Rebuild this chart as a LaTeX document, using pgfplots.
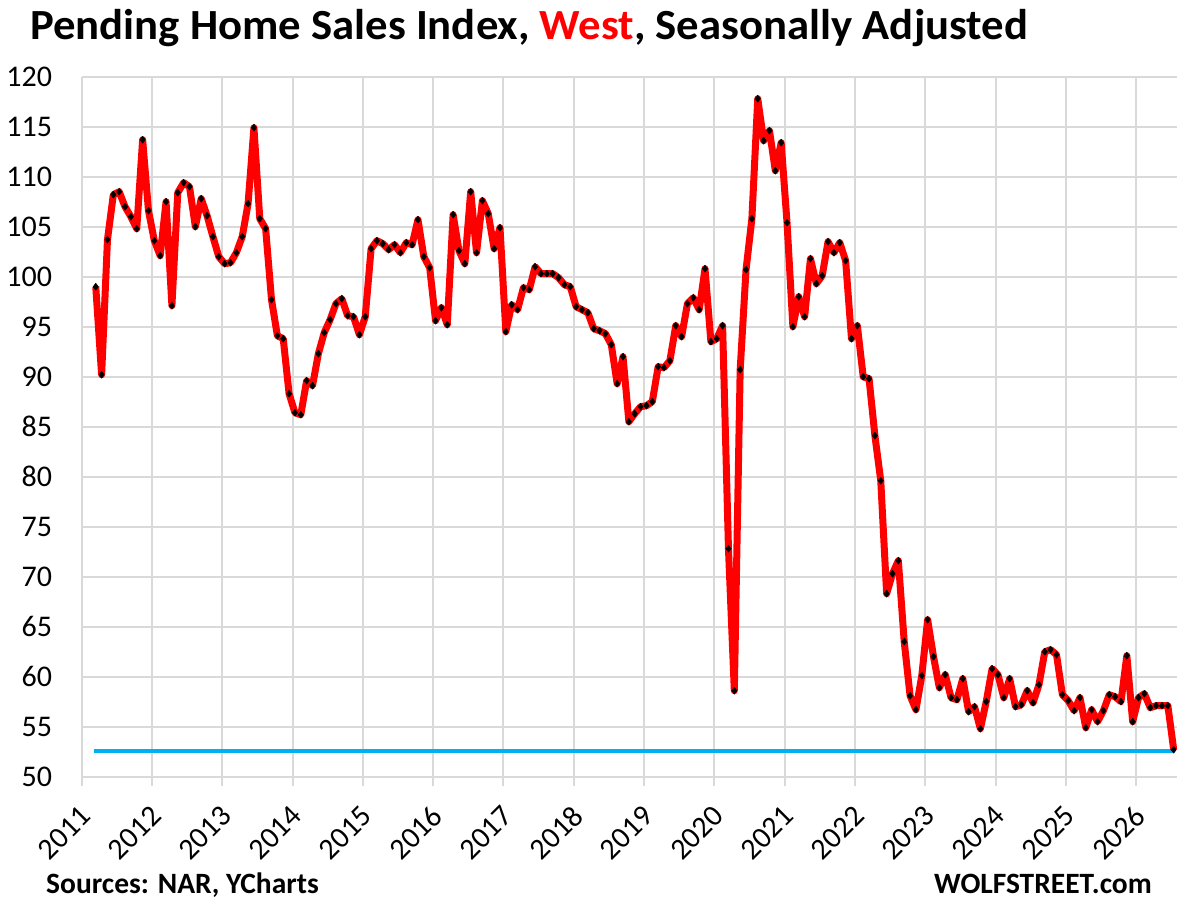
\documentclass[border=0pt]{standalone}
\usepackage{pgfplots}
\pgfplotsset{compat=1.18}
\usepackage{pgfplotstable}
\usepackage{fontspec}
\setmainfont{Carlito}
\newfontfamily\titlefont[FakeStretch=1.04]{Carlito}
\definecolor{gridgray}{RGB}{217,217,217}
\definecolor{exred}{RGB}{255,0,0}
\definecolor{exblue}{RGB}{0,176,240}

\pgfplotstableread{
v
99.0
90.2
103.7
108.2
108.5
107.0
106.0
104.8
113.7
106.6
103.6
102.1
107.5
97.1
108.4
109.4
109.0
105.0
107.8
106.1
104.0
102.0
101.3
101.4
102.4
104.0
107.3
114.9
105.8
104.8
97.7
94.1
93.8
88.3
86.4
86.2
89.6
89.1
92.3
94.4
95.7
97.3
97.8
96.1
96.0
94.2
96.0
102.8
103.6
103.3
102.7
103.2
102.4
103.4
103.2
105.7
102.0
100.9
95.6
96.9
95.2
106.2
102.6
101.3
108.5
102.4
107.6
106.3
102.8
104.9
94.5
97.2
96.7
98.9
98.7
101.0
100.3
100.3
100.3
99.9
99.2
99.0
97.0
96.7
96.4
94.8
94.6
94.3
93.2
89.3
92.0
85.5
86.3
87.0
87.1
87.5
91.0
90.9
91.6
95.1
94.0
97.3
97.9
96.7
100.8
93.5
93.8
95.1
72.8
58.6
90.7
100.7
105.8
117.8
113.6
114.6
110.6
113.4
105.4
95.0
98.0
96.0
101.8
99.3
100.1
103.5
102.4
103.4
101.6
93.8
95.1
90.0
89.8
84.1
79.6
68.3
70.3
71.6
63.5
58.1
56.7
60.1
65.7
62.0
58.9
60.2
57.9
57.7
59.8
56.5
57.0
54.8
57.5
60.8
60.2
57.9
59.8
57.0
57.2
58.6
57.4
59.2
62.5
62.7
62.2
58.2
57.6
56.6
57.9
54.9
56.7
55.5
56.6
58.2
58.0
57.5
62.1
55.5
57.9
58.3
56.9
57.1
57.1
57.1
52.7
}\westdata

\begin{document}
\begin{tikzpicture}
\useasboundingbox (0,0) rectangle (1193bp,907bp);
\begin{axis}[
  at={(81.7bp,130.3bp)}, anchor=south west,
  scale only axis, width=1095bp, height=700bp,
  xmin=2011, xmax=2026.576, ymin=50, ymax=120,
  xtick={2011,2012,...,2026},
  xticklabels={2011,2012,2013,2014,2015,2016,2017,2018,2019,2020,2021,2022,2023,2024,2025,2026},
  ytick={50,55,...,120},
  axis line style={draw=none},
  grid=major,
  major grid style={gridgray, line width=2bp},
  tick align=outside,
  xtick pos=left,
  ytick pos=left,
  major tick length=9bp,
  xtick style={gridgray, line width=2bp},
  ytick style={draw=none},
  /pgf/number format/assume math mode=true,
  tick label style={font=\fontsize{30bp}{32bp}\selectfont, text=black},
  yticklabel style={anchor=east, inner sep=0pt, xshift=-20.5bp},
  xticklabel style={anchor=center, inner sep=0pt, xshift=-17.5bp, yshift=-47bp, rotate=45},
  clip=false,
]
\addplot[exblue, line width=3.8bp, no markers] coordinates {(2011.17,52.6) (2026.533,52.6)};
\addplot[exred, line width=7bp, line join=round,
  mark=diamond*, mark size=3.5bp,
  mark options={black, fill=black, line width=0.5bp}]
  table[x expr=2011.2+\coordindex/12, y=v] {\westdata};
\end{axis}
\node[anchor=base west, inner sep=0pt] at (30bp,867.7bp)
  {\titlefont\fontsize{43bp}{46bp}\selectfont\bfseries Pending Home Sales Index, \textcolor{exred}{West}, Seasonally Adjusted};
\node[anchor=base west, inner sep=0pt] at (46bp,13.7bp)
  {\fontsize{29.5bp}{32bp}\selectfont\bfseries Sources: NAR, YCharts};
\node[anchor=base east, inner sep=0pt] at (1152bp,13.7bp)
  {\fontsize{29.5bp}{32bp}\selectfont\bfseries WOLFSTREET.com};
\end{tikzpicture}
\end{document}
